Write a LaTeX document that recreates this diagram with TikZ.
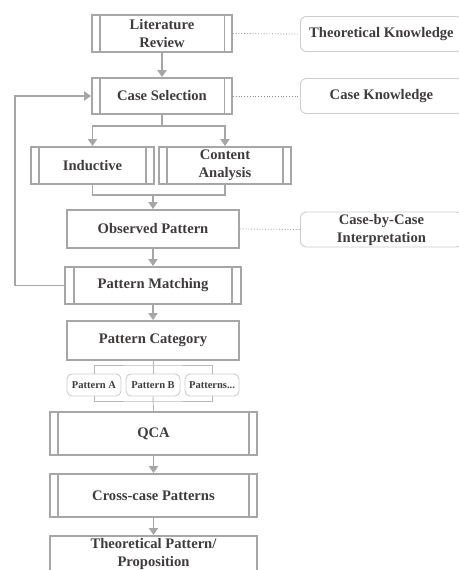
\documentclass[tikz,border=0pt]{standalone}
\usepackage{fontspec}
\setmainfont{Liberation Serif}
\usetikzlibrary{arrows.meta,calc}
\definecolor{edge}{HTML}{A6A6A6}
\definecolor{soft}{HTML}{CCCCCC}
\definecolor{dotc}{HTML}{8C8C8C}
\definecolor{ink}{HTML}{3F3B3B}
\begin{document}
\begin{tikzpicture}[x=1pt,y=-1pt,
  every node/.style={font=\fontsize{14.6}{18}\selectfont\bfseries, text=ink, align=center, inner sep=0pt},
  box/.style={draw=edge, line width=1.8pt, minimum width=#1},
  proc/.style={box=#1},
  note/.style={draw=soft, line width=0.9pt, rounded corners=6pt, minimum width=162, minimum height=35},
  small/.style={draw=soft, line width=0.9pt, rounded corners=5pt, minimum width=54, minimum height=22, font=\fontsize{10.5}{12}\selectfont\bfseries},
  conn/.style={draw=edge, line width=1.8pt},
  arr/.style={conn, -{Triangle[length=7pt,width=9pt]}},
  dots/.style={draw=dotc, line width=0.8pt, dotted},
  thinl/.style={draw=soft!90!black, line width=0.9pt},
  inner/.style={draw=edge, line width=1.8pt}
]
\useasboundingbox (0,0) rectangle (458,570);

\node[proc=140, minimum height=37] (lit) at (162,33.5) {Literature\\Review};
\node[note, anchor=west] (tk) at (300,34) {Theoretical Knowledge};
\node[proc=140, minimum height=36] (cs) at (162,96) {Case Selection};
\node[note, anchor=west] (ck) at (300,96) {Case Knowledge};
\node[proc=123, minimum height=37] (ind) at (92.5,165.5) {Inductive};
\node[proc=132, minimum height=37] (ca) at (225,165.5) {Content\\Analysis};
\node[box=172, minimum height=38] (obs) at (153,229) {Observed Pattern};
\node[note, anchor=west] (cbc) at (300,229.5) {Case-by-Case\\Interpretation};
\node[proc=176, minimum height=37] (pm) at (153,285.5) {Pattern Matching};
\node[box=172, minimum height=39] (pc) at (153,340.5) {Pattern Category};
\node[small] (pa) at (94,385) {Pattern A};
\node[small] (pb) at (153,385) {Pattern B};
\node[small] (px) at (212,385) {Patterns...};
\node[proc=207, minimum height=43] (qca) at (153.5,433.5) {QCA};
\node[proc=207, minimum height=43] (ccp) at (153.5,495.5) {Cross-case Patterns};
\node[box=207, minimum height=42, anchor=north] (tp) at (153.5,535) {};
\node (tpt) at (153.5,553.5) {Theoretical Pattern/\\Proposition};

% inner vertical lines of process boxes
\foreach \n/\d in {lit/8.5,cs/8.5,ind/9,ca/9,pm/10,qca/9,ccp/9}{
  \draw[inner] ([xshift=\d pt]\n.north west) -- ([xshift=\d pt]\n.south west);
  \draw[inner] ([xshift=-\d pt]\n.north east) -- ([xshift=-\d pt]\n.south east);
}

% dotted links
\draw[dots] (lit.east) -- (tk.west);
\draw[dots] (cs.east) -- (ck.west);
\draw[dots] (obs.east) -- (cbc.west);

% main flow
\draw[arr] (lit.south) -- (cs.north);
\draw[conn] (cs.south) -- ++(0,11) coordinate (sp);
\draw[arr] (sp) -| (ind.north);
\draw[arr] (sp) -| (ca.north);
\coordinate (jn) at (153,195);
\draw[conn] (ind.south) |- (jn) -| (ca.south);
\draw[arr] (jn) -- (obs.north);
\draw[arr] (obs.south) -- (pm.north);
\draw[arr] (pm.west) -- ++(-49,0) |- (cs.west);
\draw[arr] (pm.south) -- (pc.north);

% pattern bracket
\coordinate (bt) at (153,365);
\coordinate (bb) at (153,401);
\draw[thinl] (pc.south) -- (pb.north);
\draw[thinl] (pa.north) |- (bt) -| (px.north);
\draw[thinl] (pa.south) |- (bb) -| (px.south);
\draw[thinl] (pb.south) -- (qca.north);

\draw[arr] (qca.south) -- (ccp.north);
\draw[arr] (ccp.south) -- (tp.north);
\end{tikzpicture}
\end{document}
